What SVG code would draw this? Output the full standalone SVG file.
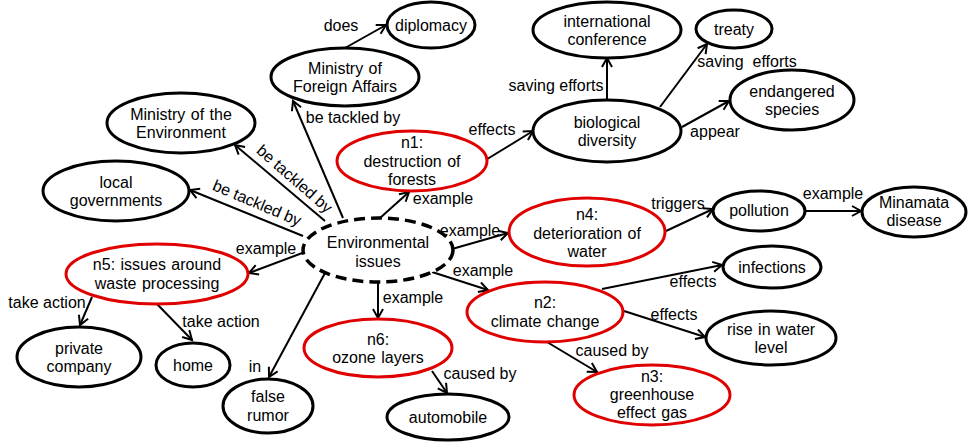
<svg xmlns="http://www.w3.org/2000/svg" width="969" height="443" viewBox="0 0 969 443">
<style>
text{font-family:"Liberation Sans",Arial,sans-serif;font-size:16px;fill:#000}
.n{text-anchor:middle;word-spacing:1px}
.l{text-anchor:middle}
.b{fill:#fff;stroke:#000;stroke-width:3}
.r{fill:#fff;stroke:#e00000;stroke-width:3}
.d{fill:#fff;stroke:#000;stroke-width:3.5;stroke-dasharray:11 6}
.e{stroke:#000;stroke-width:2;fill:none;marker-end:url(#a)}
</style>
<defs>
<marker id="a" markerUnits="userSpaceOnUse" markerWidth="14" markerHeight="14" refX="10" refY="6" orient="auto">
<path d="M1,1 L10,6 L1,11" fill="none" stroke="#000" stroke-width="2"/>
</marker>
</defs>
<rect width="969" height="443" fill="#fff"/>
<g id="connectors">
<line class="e" x1="345" y1="48" x2="386" y2="25"/>
<line class="e" x1="343" y1="218" x2="293" y2="101"/>
<line class="e" x1="325" y1="221" x2="235" y2="145"/>
<line class="e" x1="303" y1="236" x2="190" y2="190"/>
<line class="e" x1="380" y1="218" x2="409" y2="192"/>
<line class="e" x1="484" y1="161" x2="533" y2="131"/>
<line class="e" x1="607" y1="100" x2="607" y2="58"/>
<line class="e" x1="660" y1="107" x2="707" y2="44"/>
<line class="e" x1="682" y1="127" x2="729" y2="101"/>
<line class="e" x1="452" y1="249" x2="508" y2="233"/>
<line class="e" x1="666" y1="231" x2="713" y2="209"/>
<line class="e" x1="805" y1="211" x2="861" y2="211"/>
<line class="e" x1="432" y1="272" x2="488" y2="290"/>
<line class="e" x1="602" y1="289" x2="722" y2="265"/>
<line class="e" x1="624" y1="311" x2="705" y2="337"/>
<line class="e" x1="547" y1="342" x2="597" y2="372"/>
<line class="e" x1="378" y1="282" x2="378" y2="318"/>
<line class="e" x1="432" y1="371" x2="447" y2="393"/>
<line class="e" x1="305" y1="252" x2="249" y2="273"/>
<line class="e" x1="92" y1="297" x2="80" y2="325"/>
<line class="e" x1="157" y1="304" x2="192" y2="340"/>
<line class="e" x1="325" y1="273" x2="269" y2="377"/>
<text class="l" x="341" y="31">does</text>
<text class="l" x="353" y="123">be tackled by</text>
<text class="l" transform="translate(291,183) rotate(41)">be tackled by</text>
<text class="l" transform="translate(255,208) rotate(23)">be tackled by</text>
<text class="l" x="443" y="204">example</text>
<text class="l" x="492" y="135">effects</text>
<text class="l" x="556" y="91">saving efforts</text>
<text class="l" x="747" y="67" style="white-space:pre">saving  efforts</text>
<text class="l" x="715" y="137">appear</text>
<text class="l" x="470" y="236">example</text>
<text class="l" x="678" y="209">triggers</text>
<text class="l" x="833" y="199">example</text>
<text class="l" x="483" y="276">example</text>
<text class="l" x="693" y="287">effects</text>
<text class="l" x="674" y="320">effects</text>
<text class="l" x="612" y="356">caused by</text>
<text class="l" x="413" y="303">example</text>
<text class="l" x="480" y="379">caused by</text>
<text class="l" x="266" y="254">example</text>
<text class="l" x="47" y="308">take action</text>
<text class="l" x="221" y="327">take action</text>
<text class="l" x="255" y="372">in</text>
</g>
<g id="diplomacy"><ellipse class="b" cx="431" cy="25" rx="44" ry="23"/><text class="n" x="431" y="31">diplomacy</text></g>
<g id="mofa"><ellipse class="b" cx="345" cy="77" rx="74" ry="29"/><text class="n" x="345" y="74">Ministry of<tspan x="345" dy="18">Foreign Affairs</tspan></text></g>
<g id="moe"><ellipse class="b" cx="181" cy="123" rx="74" ry="30"/><text class="n" x="181" y="120">Ministry of the<tspan x="181" dy="18">Environment</tspan></text></g>
<g id="localgov"><ellipse class="b" cx="116" cy="191" rx="73" ry="30"/><text class="n" x="116" y="188">local<tspan x="116" dy="18">governments</tspan></text></g>
<g id="n1"><ellipse class="r" cx="412" cy="161" rx="75" ry="30"/><text class="n" x="412" y="148">n1:<tspan x="412" dy="18.5">destruction of</tspan><tspan x="412" dy="18.5">forests</tspan></text></g>
<g id="env"><ellipse class="d" cx="378" cy="250" rx="75" ry="32"/><text class="n" x="378" y="248">Environmental<tspan x="378" dy="19">issues</tspan></text></g>
<g id="intconf"><ellipse class="b" cx="607" cy="30" rx="74" ry="28"/><text class="n" x="607" y="27">international<tspan x="607" dy="18">conference</tspan></text></g>
<g id="treaty"><ellipse class="b" cx="734" cy="29" rx="38" ry="19"/><text class="n" x="734" y="35">treaty</text></g>
<g id="endangered"><ellipse class="b" cx="792" cy="100" rx="62" ry="30"/><text class="n" x="792" y="97">endangered<tspan x="792" dy="18">species</tspan></text></g>
<g id="biodiv"><ellipse class="b" cx="607" cy="131" rx="74" ry="31"/><text class="n" x="607" y="128">biological<tspan x="607" dy="18">diversity</tspan></text></g>
<g id="n4"><ellipse class="r" cx="587" cy="232" rx="78" ry="34"/><text class="n" x="587" y="220">n4:<tspan x="587" dy="18.5">deterioration of</tspan><tspan x="587" dy="18.5">water</tspan></text></g>
<g id="pollution"><ellipse class="b" cx="759" cy="211" rx="46" ry="20"/><text class="n" x="759" y="216">pollution</text></g>
<g id="minamata"><ellipse class="b" cx="914" cy="212" rx="52" ry="25"/><text class="n" x="914" y="208">Minamata<tspan x="914" dy="18">disease</tspan></text></g>
<g id="infections"><ellipse class="b" cx="772" cy="267" rx="49" ry="21"/><text class="n" x="772" y="273">infections</text></g>
<g id="n2"><ellipse class="r" cx="545" cy="312" rx="78" ry="30"/><text class="n" x="545" y="308">n2:<tspan x="545" dy="19">climate change</tspan></text></g>
<g id="risewater"><ellipse class="b" cx="771" cy="338" rx="65" ry="27"/><text class="n" x="771" y="335">rise in water<tspan x="771" dy="18">level</tspan></text></g>
<g id="n3"><ellipse class="r" cx="652" cy="395" rx="78" ry="30"/><text class="n" x="652" y="382">n3:<tspan x="652" dy="18">greenhouse</tspan><tspan x="652" dy="18">effect gas</tspan></text></g>
<g id="n5"><ellipse class="r" cx="157" cy="274" rx="91" ry="30"/><text class="n" x="157" y="270">n5: issues around<tspan x="157" dy="19">waste processing</tspan></text></g>
<g id="privco"><ellipse class="b" cx="79" cy="357" rx="62" ry="30"/><text class="n" x="79" y="354">private<tspan x="79" dy="18">company</tspan></text></g>
<g id="home"><ellipse class="b" cx="193" cy="365" rx="37" ry="22"/><text class="n" x="193" y="371">home</text></g>
<g id="rumor"><ellipse class="b" cx="268" cy="406" rx="45" ry="27"/><text class="n" x="268" y="402">false<tspan x="268" dy="19">rumor</tspan></text></g>
<g id="n6"><ellipse class="r" cx="378" cy="348" rx="74" ry="29"/><text class="n" x="378" y="345">n6:<tspan x="378" dy="18">ozone layers</tspan></text></g>
<g id="automobile"><ellipse class="b" cx="448" cy="417" rx="61" ry="23"/><text class="n" x="448" y="423">automobile</text></g>
</svg>
